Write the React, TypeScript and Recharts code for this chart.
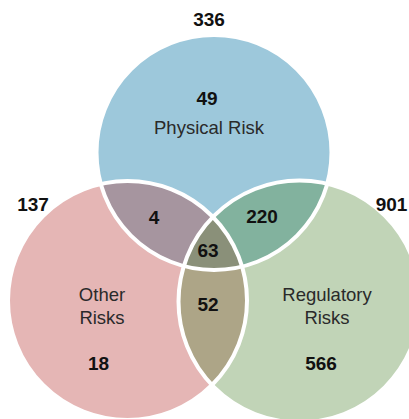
import React from 'react';
import { ScatterChart, Scatter, XAxis, YAxis } from 'recharts';

const W = 409;
const H = 419;

// Sets and their totals
const SET_NAMES = ['Physical Risk', 'Other Risks', 'Regulatory Risks'];
const SET_TOTALS = [336, 137, 901];

// Venn regions: which sets each region belongs to, and its count
const REGION_SETS = [[0], [1], [2], [0, 1], [0, 2], [1, 2], [0, 1, 2]];
const REGION_COUNTS = [49, 18, 566, 4, 220, 52, 63];
const REGION_COLORS = ['#9dc8db', '#e5b6b5', '#c1d4b7', '#a6959f', '#82b29e', '#ada587', '#8a9079'];

// Circle layout in chart units (1 unit = 1 px, y grows downward)
const CIRCLE_X = [214, 127.5, 299.5];
const CIRCLE_Y = [152.5, 300.5, 301.5];
const CIRCLE_R = [117.5, 119.5, 121];

// Label anchors in chart units
const REGION_LABEL_X = [207, 98.5, 321, 154, 262, 208, 208];
const REGION_LABEL_Y = [98, 363, 363, 217.5, 216.5, 304.5, 250.5];
const TOTAL_LABEL_X = [209, 33, 391.5];
const TOTAL_LABEL_Y = [19.5, 204.5, 204.5];
const NAME_LABEL_X = [209, 102, 327];
const NAME_LABEL_Y = [134, 301, 301];
const NAME_LINES = [['Physical Risk'], ['Other', 'Risks'], ['Regulatory', 'Risks']];

const X_DOMAIN: [number, number] = [0, W];
const Y_DOMAIN: [number, number] = [0, H];
const K = W / (X_DOMAIN[1] - X_DOMAIN[0]);

const FONT = "'Liberation Sans', Arial, Helvetica, sans-serif";
const NUM_SIZE = 19;
const NAME_SIZE = 18.5;

const regionData = REGION_SETS.map((sets, i) => ({
  x: CIRCLE_X[sets[0]],
  y: CIRCLE_Y[sets[0]],
  sets,
  idx: i,
  color: REGION_COLORS[i],
}));

const outlineData = SET_NAMES.map((name, i) => ({ x: CIRCLE_X[i], y: CIRCLE_Y[i], idx: i, name }));

const countLabels = REGION_COUNTS.map((v, i) => ({ x: REGION_LABEL_X[i], y: REGION_LABEL_Y[i], text: String(v) }));
const totalLabels = SET_TOTALS.map((v, i) => ({ x: TOTAL_LABEL_X[i], y: TOTAL_LABEL_Y[i], text: String(v) }));
const nameLabels = SET_NAMES.map((n, i) => ({ x: NAME_LABEL_X[i], y: NAME_LABEL_Y[i], lines: NAME_LINES[i], name: n }));

// Filled region: circle of the first set, clipped by every other set it belongs to
const RegionShape = (props: any) => {
  const { cx, cy, payload } = props;
  const sets: number[] = payload.sets;
  const first = sets[0];
  const rest = sets.slice(1);
  const clips = rest.map((s) => ({
    id: `venn-clip-${payload.idx}-${s}`,
    cx: cx + (CIRCLE_X[s] - CIRCLE_X[first]) * K,
    cy: cy + (CIRCLE_Y[s] - CIRCLE_Y[first]) * K,
    r: CIRCLE_R[s] * K,
  }));
  let node: React.ReactNode = <circle cx={cx} cy={cy} r={CIRCLE_R[first] * K} fill={payload.color} />;
  for (let i = clips.length - 1; i >= 0; i--) {
    node = <g clipPath={`url(#${clips[i].id})`}>{node}</g>;
  }
  return (
    <g>
      <defs>
        {clips.map((c) => (
          <clipPath key={c.id} id={c.id}>
            <circle cx={c.cx} cy={c.cy} r={c.r} />
          </clipPath>
        ))}
      </defs>
      {node}
    </g>
  );
};

const OutlineShape = (props: any) => {
  const { cx, cy, payload } = props;
  return <circle cx={cx} cy={cy} r={CIRCLE_R[payload.idx] * K} fill="none" stroke="#ffffff" strokeWidth={4} />;
};

const NumberShape = (props: any) => {
  const { cx, cy, payload } = props;
  return (
    <text
      x={cx}
      y={cy + NUM_SIZE * 0.358}
      textAnchor="middle"
      fontFamily={FONT}
      fontWeight={700}
      fontSize={NUM_SIZE}
      fill="#111111"
    >
      {payload.text}
    </text>
  );
};

const NameShape = (props: any) => {
  const { cx, cy, payload } = props;
  return (
    <text textAnchor="middle" fontFamily={FONT} fontSize={NAME_SIZE} fill="#2a2a2a">
      {payload.lines.map((l: string, i: number) => (
        <tspan key={i} x={cx} y={cy + i * 23}>
          {l}
        </tspan>
      ))}
    </text>
  );
};

export default function App() {
  return (
    <div style={{ position: 'fixed', left: 0, top: 0, background: '#ffffff' }}>
      <ScatterChart width={W} height={H} margin={{ top: 0, right: 0, bottom: 0, left: 0 }}>
        <XAxis type="number" dataKey="x" domain={X_DOMAIN} hide allowDataOverflow />
        <YAxis type="number" dataKey="y" domain={Y_DOMAIN} reversed hide allowDataOverflow />
        <Scatter data={regionData} shape={RegionShape} isAnimationActive={false} />
        <Scatter data={outlineData} shape={OutlineShape} isAnimationActive={false} />
        <Scatter data={nameLabels} shape={NameShape} isAnimationActive={false} />
        <Scatter data={countLabels} shape={NumberShape} isAnimationActive={false} />
        <Scatter data={totalLabels} shape={NumberShape} isAnimationActive={false} />
      </ScatterChart>
    </div>
  );
}
